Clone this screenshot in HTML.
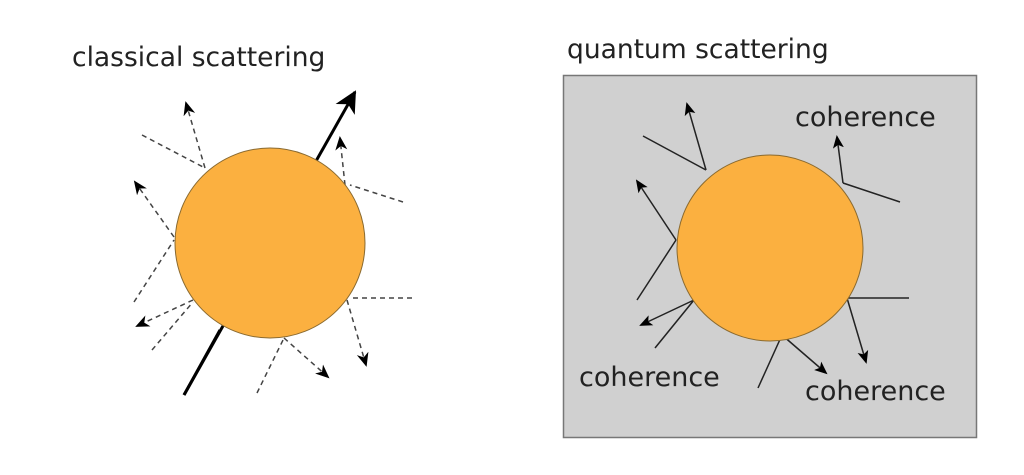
<!DOCTYPE html>
<html><head><style>body{margin:0;background:#fff}svg{display:block}</style></head><body>
<svg width="1024" height="475" viewBox="0 0 1024 475" xmlns="http://www.w3.org/2000/svg" font-family="DejaVu Sans, Liberation Sans, sans-serif">
<defs>
<marker id="a" markerWidth="13" markerHeight="13" refX="11" refY="6.5" orient="auto" markerUnits="userSpaceOnUse"><path d="M0,1 L13,6.5 L0,12 L3,6.5 z" fill="#000"/></marker>
<marker id="b" markerWidth="22" markerHeight="22" refX="20" refY="11" orient="auto" markerUnits="userSpaceOnUse"><path d="M0,0 L22,11 L0,22 L6,11 z" fill="#000"/></marker>
<marker id="c" markerWidth="14" markerHeight="14" refX="12" refY="7" orient="auto" markerUnits="userSpaceOnUse"><path d="M0,1 L14,7 L0,13 L4,7 z" fill="#000"/></marker>
</defs>
<text x="72" y="66" font-size="26.5" fill="#222">classical scattering</text>
<text x="567" y="58" font-size="26.5" fill="#222">quantum scattering</text>
<rect x="563.5" y="75.5" width="413" height="362" fill="#d0d0d0" stroke="#777" stroke-width="1.5"/>
<line x1="184" y1="395" x2="355" y2="92" stroke="#000" stroke-width="3" marker-end="url(#b)"/>
<g stroke="#444" stroke-width="1.5" stroke-dasharray="5,4" fill="none">
<line x1="142" y1="135" x2="205" y2="168"/>
<line x1="205" y1="168" x2="186" y2="103" marker-end="url(#c)"/>
<line x1="403" y1="202" x2="350" y2="185"/>
<line x1="345" y1="185" x2="340" y2="138" marker-end="url(#c)"/>
<line x1="134" y1="302" x2="174" y2="240"/>
<line x1="174" y1="237" x2="135" y2="182" marker-end="url(#c)"/>
<line x1="152" y1="350" x2="193" y2="302"/>
<line x1="193" y1="300" x2="137" y2="326" marker-end="url(#c)"/>
<line x1="412" y1="298" x2="350" y2="298"/>
<line x1="347" y1="300" x2="366" y2="365" marker-end="url(#c)"/>
<line x1="257" y1="393" x2="284" y2="338"/>
<line x1="284" y1="338" x2="328" y2="377" marker-end="url(#c)"/>
</g>
<circle cx="270" cy="243" r="95" fill="#fbb040" stroke="#8a6a30" stroke-width="1"/>
<line x1="184" y1="395" x2="220" y2="330" stroke="#000" stroke-width="3"/>
<g stroke="#222" stroke-width="1.5" fill="none">
<line x1="643" y1="136" x2="706" y2="170"/>
<line x1="706" y1="170" x2="687" y2="104" marker-end="url(#a)"/>
<line x1="900" y1="202" x2="843" y2="183"/>
<line x1="843" y1="183" x2="837" y2="137" marker-end="url(#a)"/>
<line x1="637" y1="300" x2="676" y2="240"/>
<line x1="676" y1="240" x2="637" y2="181" marker-end="url(#a)"/>
<line x1="655" y1="348" x2="694" y2="300"/>
<line x1="694" y1="300" x2="641" y2="325" marker-end="url(#a)"/>
<line x1="909" y1="298" x2="847" y2="298"/>
<line x1="847" y1="298" x2="866" y2="362" marker-end="url(#a)"/>
<line x1="758" y1="388" x2="782" y2="335"/>
<line x1="782" y1="335" x2="826" y2="373" marker-end="url(#a)"/>
</g>
<circle cx="770" cy="248" r="93" fill="#fbb040" stroke="#8a6a30" stroke-width="1"/>
<text x="795" y="126" font-size="27" fill="#222">coherence</text>
<text x="579" y="386" font-size="27" fill="#222">coherence</text>
<text x="805" y="400" font-size="27" fill="#222">coherence</text>
</svg>
</body></html>
